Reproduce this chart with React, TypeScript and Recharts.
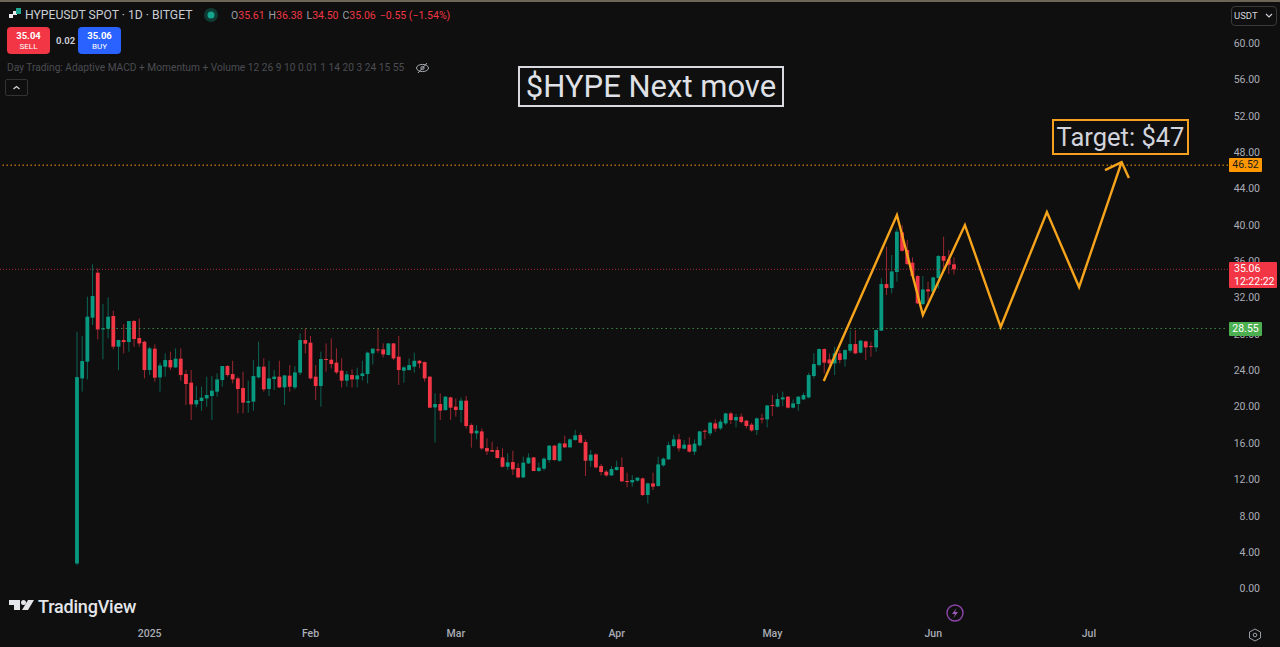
import React from "react";
import { ComposedChart, Bar, Line, XAxis, YAxis, ReferenceLine } from "recharts";

const opens = [2.7,23.06,24.9,29.74,34.69,28.45,28.53,29.92,26.55,27.28,27.06,29.37,27.5,27.1,23.98,26.33,23.17,24.35,25.08,24.27,25.23,23.54,22.59,20.2,20.57,20.86,21.12,21.6,22.88,24.42,23.54,23.06,22.0,20.39,20.5,23.17,
24.35,21.89,22.99,23.25,22.07,23.36,22.07,23.69,27.28,26.99,23.25,22.22,25.19,25.12,24.79,23.91,22.81,23.43,22.95,23.32,23.54,25.81,26.25,26.25,25.63,26.91,25.45,23.91,23.98,24.35,25.0,24.86,23.25,
19.87,20.24,19.58,20.97,19.95,19.58,20.61,17.93,17.01,17.23,15.4,15.18,15.18,14.37,13.34,13.86,13.2,12.17,13.71,14.37,12.87,13.13,14.08,15.66,14.0,15.91,15.47,16.28,16.83,16.06,14.0,14.7,13.42,12.8,12.39,12.98,13.31,11.77,11.62,11.81,12.06,10.23,11.51,11.22,13.49,14.15,
15.62,16.35,15.33,15.77,15.0,15.69,17.3,17.01,18.11,17.56,18.11,19.21,18.44,18.85,18.41,17.97,17.38,18.66,18.55,20.13,19.95,20.75,21.05,19.84,20.24,20.75,
20.97,23.32,24.53,26.29,25.15,24.71,25.81,25.15,26.11,26.84,25.89,27.13,26.62,26.47,28.31,33.44,33.0,34.76,39.12,37.18,35.79,34.32,31.24,32.85,32.6,34.1,36.52,36.15,35.61];
const highs = [28.2,27.72,32.05,35.6,35.16,31.24,31.97,30.5,27.3,29.04,29.37,29.5,29.66,27.2,26.55,26.8,24.79,25.81,26.0,26.36,26.36,23.98,23.98,22.22,22.15,23.25,23.32,23.61,24.42,24.53,25.0,23.25,23.8,22.81,25.08,27.1,
25.26,25.0,23.98,25.0,23.42,24.53,24.42,28.01,28.56,27.72,24.53,26.0,26.91,27.46,26.36,25.26,23.87,24.05,24.24,25.0,26.0,26.36,28.56,26.91,26.95,26.95,27.72,24.42,25.26,25.89,25.08,24.9,23.3,
21.41,21.41,21.1,21.05,20.86,20.97,21.12,18.11,17.93,17.56,16.46,16.1,15.55,15.36,14.81,15.11,13.71,14.45,14.81,14.42,13.79,14.37,15.73,15.73,15.99,16.76,16.46,17.38,17.09,16.35,15.18,14.81,13.64,12.98,13.42,14.0,14.37,12.69,12.43,12.17,12.14,11.59,12.69,14.45,14.37,16.1,
16.83,16.94,16.28,16.57,16.35,17.3,17.45,18.3,18.55,18.55,19.29,19.4,19.14,19.21,18.48,18.19,18.77,19.14,20.13,21.23,21.41,21.6,21.12,20.75,21.12,21.49,
23.69,25.81,26.36,26.36,25.81,26.55,26.18,26.25,28.33,28.38,27.28,27.21,27.1,28.45,34.06,37.55,36.63,39.56,39.93,38.28,36.37,34.43,34.32,33.7,34.25,36.63,38.65,37.18,36.38];
const lows = [2.5,21.6,22.95,28.93,27.35,25.15,27.46,26.25,23.98,25.81,26.0,26.55,26.55,23.06,23.43,22.7,21.6,23.25,23.98,24.2,22.81,20.13,18.48,19.87,19.5,19.94,18.48,21.05,22.15,23.25,22.51,19.21,19.21,19.29,19.5,23.06,
21.6,21.12,21.78,22.0,20.13,21.6,21.85,23.43,25.81,22.95,20.68,19.95,23.8,24.16,23.54,22.07,22.15,22.07,22.07,22.81,22.51,24.6,25.89,25.37,25.6,25.08,22.33,22.59,23.95,23.69,24.16,22.7,19.8,
15.99,18.48,19.5,18.48,18.85,18.19,17.56,15.44,16.35,15.18,14.63,14.98,14.26,13.27,12.98,12.43,12.06,12.1,13.64,12.85,12.8,12.91,13.79,14.0,13.9,15.45,15.45,16.21,15.91,12.32,13.34,13.16,12.39,12.25,12.32,12.91,11.66,11.07,11.15,11.7,10.12,9.31,10.78,11.15,13.34,14.08,
15.47,15.0,15.25,14.89,14.63,15.55,16.35,16.76,17.2,17.38,17.93,18.04,17.67,18.11,17.56,17.2,16.83,18.11,17.67,18.92,19.87,20.02,19.76,19.76,19.5,20.68,
20.86,23.06,24.35,23.61,23.98,23.43,24.71,24.35,25.89,25.74,25.81,25.08,25.45,25.99,28.28,32.23,32.41,33.7,37.0,35.53,34.06,31.24,31.13,31.5,32.41,32.96,35.16,34.54,34.5];
const closes = [23.2,24.97,29.85,32.12,28.45,28.56,29.85,26.55,27.28,27.06,29.37,27.39,26.91,23.98,26.36,23.14,24.49,25.08,24.27,25.23,23.43,22.44,20.2,20.68,20.94,21.23,21.71,22.95,24.42,23.43,22.95,21.89,20.39,20.57,23.32,24.35,
21.85,23.06,23.25,22.07,23.39,22.15,23.72,27.28,26.88,23.06,22.22,25.19,25.12,24.64,23.72,22.81,23.5,22.95,23.39,23.61,25.89,26.33,26.18,25.7,26.91,25.26,23.98,24.27,24.53,25.0,24.71,23.06,19.84,
20.24,19.51,21.05,19.84,19.58,20.61,17.82,17.01,17.31,15.36,15.03,15.0,14.3,13.34,13.82,13.05,12.17,13.79,14.34,12.87,13.24,14.23,15.66,14.08,15.91,15.47,16.35,16.79,15.99,14.0,14.67,13.27,12.76,12.39,13.09,13.31,11.73,11.66,11.88,12.14,10.23,11.51,11.15,13.6,14.23,15.73,
16.35,15.36,15.77,15.0,15.88,17.23,17.23,18.19,17.53,18.3,19.21,18.48,18.81,18.26,17.82,17.34,18.66,18.59,20.09,20.06,20.79,20.97,19.84,20.31,21.05,21.23,
23.43,24.64,26.29,24.79,24.71,25.81,25.08,26.18,26.84,25.81,27.21,26.47,26.55,28.38,33.44,33.0,34.83,39.2,37.1,35.64,34.32,31.31,32.85,32.63,34.17,36.52,36.0,35.57,35.06];

const pathDays = [143.9,158.0,163.0,171.1,178.0,186.9,193.1,201.3];
const pathPrices = [22.77,41.03,30.03,39.93,28.71,41.36,33.11,46.86];
const arrowDays = [198.1,201.3,202.7];
const arrowPrices = [45.98,46.86,45.1];

const priceTicks = [0,4,8,12,16,20,24,28,32,36,40,44,48,52,56,60];
const monthDays = [14,45,73,104,134,165,195];
const monthLabels = ["2025","Feb","Mar","Apr","May","Jun","Jul"];

const targetLevel = 46.52;
const supportLevel = 28.55;
const lastPrice = 35.06;

const candles = opens.map((o, i) => ({ i, o, h: highs[i], l: lows[i], c: closes[i], range: [lows[i], highs[i]] }));
const pathData = pathDays.map((i, k) => ({ i, price: pathPrices[k] }));
const arrowData = arrowDays.map((i, k) => ({ i, price: arrowPrices[k] }));

const UP = "#089981";
const DOWN = "#f23645";
const ORANGE = "#f7a41d";
const BG = "#0f0f0f";
const FONT = "Roboto, sans-serif";

function Candle(props: any) {
  const { x, y, width, height, payload } = props;
  const { o, h, l, c } = payload;
  const unit = height / (h - l);
  const cx = x + width / 2;
  const top = y + (h - Math.max(o, c)) * unit;
  const bot = y + (h - Math.min(o, c)) * unit;
  const col = c >= o ? UP : DOWN;
  return (
    <g>
      <line x1={cx} x2={cx} y1={y} y2={y + height} stroke={col} strokeWidth={1} strokeOpacity={0.62} />
      <rect x={cx - 1.9} width={3.8} y={top} height={Math.max(bot - top, 1)} fill={col} />
    </g>
  );
}

const abs = (left: number, top: number, extra: React.CSSProperties = {}): React.CSSProperties => ({
  position: "absolute", left, top, whiteSpace: "nowrap", fontFamily: FONT, ...extra,
});

function Ohlc({ k, v }: { k: string; v: string }) {
  return <span style={{ marginRight: 4 }}><span style={{ color: "#9a9da6" }}>{k}</span><span style={{ color: DOWN }}>{v}</span></span>;
}

export default function App() {
  return (
    <div style={{ position: "absolute", left: 0, top: 0, width: 1280, height: 647, background: BG, overflow: "hidden" }}>
      <ComposedChart width={1280} height={647} data={candles} margin={{ top: 0, right: 0, bottom: 0, left: 0 }} style={{ position: "absolute", left: 0, top: 0 }}>
        <XAxis dataKey="i" type="number" domain={[-14.84, 221.8]} allowDataOverflow ticks={monthDays}
          tickFormatter={(d: number) => monthLabels[monthDays.indexOf(d)]} height={25} axisLine={false} tickLine={false}
          tick={{ fill: "#a9acb5", fontSize: 10.5, fontFamily: FONT, fontWeight: 500 }} interval={0} />
        <YAxis orientation="right" type="number" domain={[-3.74, 64.69]} allowDataOverflow ticks={priceTicks} width={52}
          tickFormatter={(v: number) => v.toFixed(2)} axisLine={false} tickLine={false} interval={0}
          tick={{ fill: "#a9acb5", fontSize: 10.5, fontFamily: FONT, textAnchor: "end", dx: 24, dy: 0.5 } as any} />
        <ReferenceLine y={targetLevel} stroke="#ff9800" strokeDasharray="1.5 2.5" strokeWidth={1} />
        <ReferenceLine y={lastPrice} stroke="#a52f3c" strokeDasharray="1 2" strokeWidth={1} />
        <ReferenceLine segment={[{ x: 5, y: supportLevel }, { x: 221.8, y: supportLevel }]} stroke="#4caf50" strokeOpacity={0.75} strokeDasharray="1.5 3" strokeWidth={1} />
        <Bar dataKey="range" barSize={4} shape={<Candle />} isAnimationActive={false} />
        <Line data={pathData} dataKey="price" stroke={ORANGE} strokeWidth={2.4} dot={false} type="linear" isAnimationActive={false} legendType="none" />
        <Line data={arrowData} dataKey="price" stroke={ORANGE} strokeWidth={2.4} dot={false} type="linear" isAnimationActive={false} legendType="none" />
      </ComposedChart>

      <div style={{ position: "absolute", left: 0, top: 0, width: 1280, height: 2, background: "#6e6557" }} />

      {/* legend header */}
      <svg style={{ position: "absolute", left: 8, top: 7 }} width={14} height={13}>
        <rect x={1} y={7} width={4} height={4} fill="#e8eaed" />
        <rect x={5} y={4} width={4} height={4} fill="#e8eaed" />
        <rect x={8} y={1} width={5} height={6} fill="#1fa891" />
      </svg>
      <div style={abs(25, 8, { color: "#c9ccd3", fontSize: 12.2 })}>HYPEUSDT SPOT · 1D · BITGET</div>
      <svg style={{ position: "absolute", left: 203, top: 7 }} width={16} height={16}>
        <circle cx={8} cy={8} r={7} fill="#0f3a33" />
        <circle cx={8} cy={8} r={3.5} fill="#15a58c" />
      </svg>
      <div style={abs(231, 9, { fontSize: 10.5 })}>
        <Ohlc k="O" v="35.61" /><Ohlc k="H" v="36.38" /><Ohlc k="L" v="34.50" /><Ohlc k="C" v="35.06" />
        <span style={{ color: DOWN }}>−0.55 (−1.54%)</span>
      </div>

      <div style={abs(7, 27, { width: 43, height: 27, background: "#f23645", borderRadius: 4, color: "#fff", textAlign: "center", fontSize: 9.5, fontWeight: 700, lineHeight: "11px", paddingTop: 3, boxSizing: "border-box" })}>
        35.04<div style={{ fontSize: 8, fontWeight: 400 }}>SELL</div>
      </div>
      <div style={abs(56, 35, { color: "#c9ccd3", fontSize: 9.5, fontWeight: 700 })}>0.02</div>
      <div style={abs(78, 27, { width: 43, height: 27, background: "#2962ff", borderRadius: 4, color: "#fff", textAlign: "center", fontSize: 9.5, fontWeight: 700, lineHeight: "11px", paddingTop: 3, boxSizing: "border-box" })}>
        35.06<div style={{ fontSize: 8, fontWeight: 400 }}>BUY</div>
      </div>

      <div style={abs(7, 62, { color: "#4b4d52", fontSize: 10.2 })}>Day Trading: Adaptive MACD + Momentum + Volume 12 26 9 10 0.01 1 14 20 3 24 15 55</div>
      <svg style={{ position: "absolute", left: 415, top: 61 }} width={15} height={14}>
        <ellipse cx={7.5} cy={7} rx={6} ry={3.6} fill="none" stroke="#a8abb2" strokeWidth={1} />
        <circle cx={7.5} cy={7} r={1.6} fill="none" stroke="#a8abb2" strokeWidth={1} />
        <line x1={3} y1={12} x2={12} y2={2} stroke="#a8abb2" strokeWidth={1} />
      </svg>
      <div style={abs(5, 79, { width: 23, height: 17, border: "1px solid #333", borderRadius: 2, boxSizing: "border-box" })}>
        <svg width={21} height={15} style={{ display: "block" }}>
          <polyline points="7.5,9 10.5,6.5 13.5,9" fill="none" stroke="#d1d4dc" strokeWidth={1.3} />
        </svg>
      </div>

      {/* annotations */}
      <div style={abs(518, 66, { width: 266, height: 41, border: "2px solid #d8dadf", boxSizing: "border-box", color: "#dfe1e6", fontSize: 31, lineHeight: "37px", textAlign: "center" })}>$HYPE Next move</div>
      <div style={abs(1052, 119, { width: 137, height: 36, border: "2px solid #f5a11f", boxSizing: "border-box", color: "#d1d4dc", fontSize: 25.5, lineHeight: "33px", textAlign: "center" })}>Target: $47</div>

      {/* price scale labels */}
      <div style={abs(1231, 6, { width: 46, height: 20, border: "1px solid #3a3a3a", borderRadius: 4, boxSizing: "border-box", color: "#d1d4dc", fontSize: 9.5, lineHeight: "18px", paddingLeft: 2 })}>
        USDT
        <svg width={8} height={6} style={{ position: "absolute", right: 3, top: 6 }}><polyline points="1,1 4,4 7,1" fill="none" stroke="#d1d4dc" strokeWidth={1.1} /></svg>
      </div>
      <div style={abs(1229, 158, { width: 33, height: 14, background: "#ff9800", borderRadius: 1, color: "#1a1a1a", fontSize: 10.5, lineHeight: "14px", textAlign: "center" })}>46.52</div>
      <div style={abs(1229, 262, { width: 48, height: 26, background: "#f23645", borderRadius: 1, color: "#fff", fontSize: 10.5, lineHeight: "12.5px", paddingLeft: 5, boxSizing: "border-box", paddingTop: 1 })}>35.06<br />12:22:22</div>
      <div style={abs(1229, 322, { width: 33, height: 14, background: "#4caf50", borderRadius: 1, color: "#fff", fontSize: 10.5, lineHeight: "14px", textAlign: "center" })}>28.55</div>

      {/* logo */}
      <svg style={{ position: "absolute", left: 8, top: 597 }} width={28} height={18}>
        <path d="M1 3h11v10H6V8H1z" fill="#e4e6ea" />
        <circle cx={15.5} cy={5.5} r={2.5} fill="#e4e6ea" />
        <path d="M20 3h6l-6 10h-6z" fill="#e4e6ea" />
      </svg>
      <div style={abs(38, 596, { color: "#e4e6ea", fontSize: 18, fontWeight: 500, letterSpacing: -0.2 })}>TradingView</div>

      <svg style={{ position: "absolute", left: 945, top: 603 }} width={20} height={20}>
        <circle cx={10} cy={10} r={8} fill="none" stroke="#8e44ad" strokeWidth={1.4} />
        <path d="M11.5 5 L7 11 H10 L8.5 15 L13 9 H10 Z" fill="#9b59b6" />
      </svg>
      <svg style={{ position: "absolute", left: 1248, top: 628 }} width={14} height={14}>
        <polygon points="7,1 12.5,4 12.5,10 7,13 1.5,10 1.5,4" fill="none" stroke="#9a9da6" strokeWidth={1} />
        <circle cx={7} cy={7} r={1.8} fill="none" stroke="#9a9da6" strokeWidth={1} />
      </svg>
    </div>
  );
}
